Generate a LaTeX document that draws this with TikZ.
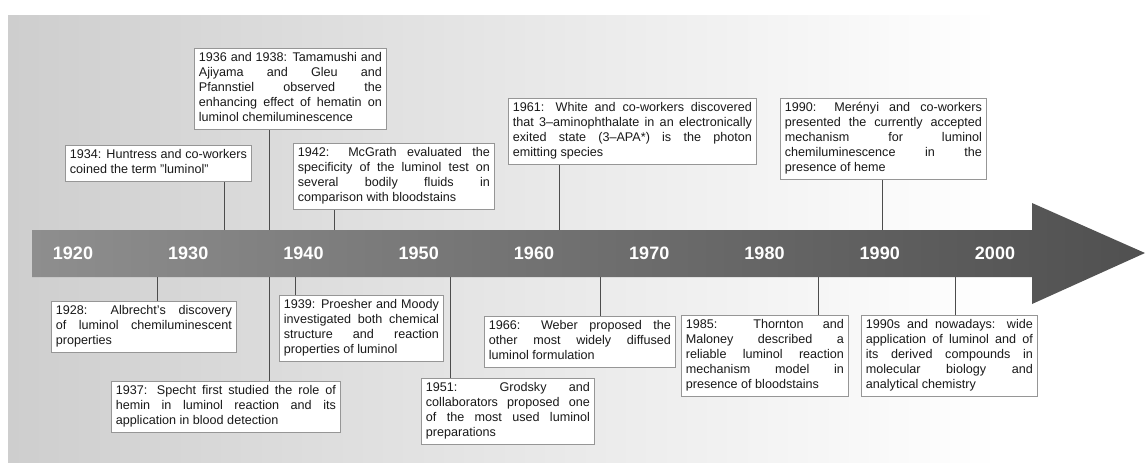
\documentclass[tikz,border=0pt]{standalone}
\usepackage{fontspec}
\setmainfont{Liberation Sans}
\definecolor{bgleft}{RGB}{206,206,206}
\definecolor{arrowleft}{RGB}{142,142,142}
\definecolor{arrowmid}{RGB}{104,104,104}
\definecolor{arrowright}{RGB}{80,80,80}
\definecolor{boxline}{RGB}{150,150,150}
\definecolor{boxtext}{RGB}{25,25,25}
\tolerance=10000
\hbadness=10000
\hyphenpenalty=10000
\exhyphenpenalty=10000

\begin{document}
\begin{tikzpicture}[x=1pt,y=-1pt,
  event/.style={draw=boxline,line width=0.8pt,fill=white,anchor=north west,
    align=justify,inner xsep=4.5pt,inner ysep=3pt,text=boxtext,
    font=\fontsize{12.6}{15}\selectfont,
    execute at begin node=\strut,execute at end node=\strut},
  year/.style={text=white,font=\fontsize{18}{18}\selectfont\bfseries},
  tick/.style={draw=black!70,line width=0.8pt}]
\useasboundingbox (0,0) rectangle (1146,467);

% background
\shade[left color=bgleft,right color=white] (8,15) rectangle (1000,462);

% time arrow
\shade[left color=arrowleft,middle color=arrowmid,right color=arrowright]
  (32,230) -- (1032,230) -- (1032,203) -- (1145,253) -- (1032,304) -- (1032,277) -- (32,277) -- cycle;
\foreach \yr [count=\i from 0] in {1920,1930,1940,1950,1960,1970,1980,1990,2000}
  \node[year] (y\yr) at (73+115.25*\i,253) {\yr};

% tick points on the arrow
\coordinate (t1934) at (224,230);
\coordinate (t1936) at (269,230);
\coordinate (t1942) at (334,230);
\coordinate (t1961) at (559,230);
\coordinate (t1990) at (882,230);
\coordinate (b1928) at (157,277);
\coordinate (b1937) at (269,277);
\coordinate (b1939) at (295,277);
\coordinate (b1951) at (450,277);
\coordinate (b1966) at (600,277);
\coordinate (b1985) at (818,277);
\coordinate (b1990s) at (955,277);

% events above
\node[event,text width=177pt] (e1934) at (65,145) {1934: Huntress and co-workers\linebreak coined the term "luminol"};
\node[event,text width=183pt] (e1936) at (194,48) {1936 and 1938: Tamamushi and\linebreak Ajiyama and Gleu and\linebreak Pfannstiel observed the\linebreak enhancing effect of hematin on\linebreak luminol chemiluminescence};
\node[event,text width=192pt] (e1942) at (293,143) {1942: McGrath evaluated the\linebreak specificity of the luminol test on\linebreak several bodily fluids in\linebreak comparison with bloodstains};
\node[event,text width=239pt] (e1961) at (508,98) {1961: White and co-workers discovered\linebreak that 3–aminophthalate in an electronically\linebreak exited state (3–APA*) is the photon\linebreak emitting species};
\node[event,text width=197pt] (e1990) at (780,98) {1990: Merényi and co-workers\linebreak presented the currently accepted\linebreak mechanism for luminol\linebreak chemiluminescence in the\linebreak presence of heme};

% events below
\node[event,text width=176pt] (e1928) at (51,301) {1928: Albrecht's discovery\linebreak of luminol chemiluminescent\linebreak properties};
\node[event,text width=220pt] (e1937) at (111,381) {1937: Specht first studied the role of\linebreak hemin in luminol reaction and its\linebreak application in blood detection};
\node[event,text width=155pt] (e1939) at (279,295) {1939: Proesher and Moody\linebreak investigated both chemical\linebreak structure and reaction\linebreak properties of luminol};
\node[event,text width=164pt] (e1951) at (421,378) {1951: Grodsky and\linebreak collaborators proposed one\linebreak of the most used luminol\linebreak preparations};
\node[event,text width=182pt] (e1966) at (484,316) {1966: Weber proposed the\linebreak other most widely diffused\linebreak luminol formulation};
\node[event,text width=158pt] (e1985) at (681,315) {1985: Thornton and\linebreak Maloney described a\linebreak reliable luminol reaction\linebreak mechanism model in\linebreak presence of bloodstains};
\node[event,text width=167pt] (e1990s) at (861,315) {1990s and nowadays: wide\linebreak application of luminol and of\linebreak its derived compounds in\linebreak molecular biology and\linebreak analytical chemistry};

% connectors
\foreach \ev in {1934,1936,1942,1961,1990}
  \draw[tick] (t\ev) -- (t\ev |- e\ev.south);
\foreach \ev in {1928,1937,1939,1951,1966,1985,1990s}
  \draw[tick] (b\ev) -- (b\ev |- e\ev.north);
\end{tikzpicture}
\end{document}
